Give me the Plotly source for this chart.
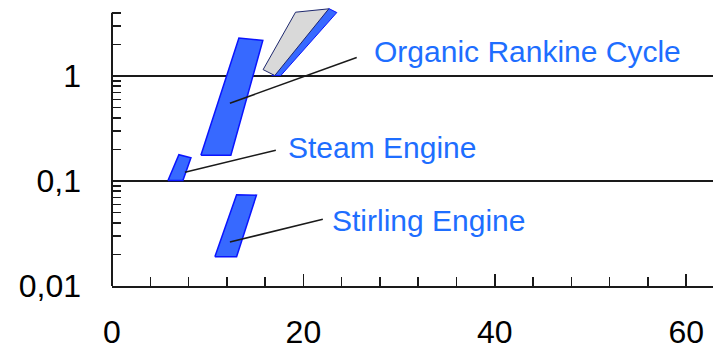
import math
import plotly.graph_objects as go

# ---- data ----
# technology regions: x (0..60 scale), y (log scale)
orc_x = [9.29, 12.42, 15.76, 13.26]
orc_y = [0.176, 0.176, 2.18, 2.30]
orc_shadow_x = [16.70, 17.64, 23.49, 22.65]
orc_shadow_y = [1.01, 1.01, 4.02, 4.39]
orc_grey_x = [15.79, 17.01, 22.65, 19.18]
orc_grey_y = [1.15, 1.01, 4.36, 4.05]
steam_x = [5.85, 7.41, 8.25, 6.99]
steam_y = [0.101, 0.101, 0.1665, 0.178]
stirling_x = [10.75, 13.02, 15.09, 13.02]
stirling_y = [0.0190, 0.0190, 0.0733, 0.0741]

# leader lines: [start, end]
orc_leader_x = [12.32, 25.57]
orc_leader_y = [0.550, 1.50]
steam_leader_x = [7.62, 17.12]
steam_leader_y = [0.121, 0.196]
stirling_leader_x = [12.32, 22.03]
stirling_leader_y = [0.0262, 0.0433]

# labels: text, x, y
label_texts = ["Organic Rankine Cycle", "Steam Engine", "Stirling Engine"]
label_x = [27.2, 18.2, 22.8]
label_y = [1.71, 0.209, 0.042]

y_tickvals = [0.01, 0.1, 1]
y_ticktext = ["0,01", "0,1", "1"]
x_tickvals = [0, 20, 40, 60]
x_ticktext = ["0", "20", "40", "60"]

Y_MIN_LOG = -2
Y_MAX_LOG = 0.676
Y_AXIS_TOP = 4
X_RANGE = [0, 62.8]

BLUE_FILL = "rgb(55,105,255)"
BLUE_LINE = "rgb(10,20,255)"
TEXT_BLUE = "rgb(30,110,255)"
DARK = "#1a1a1a"
FONT = "Liberation Sans, Arial, Helvetica, sans-serif"

fig = go.Figure()


def poly(xs, ys, fill, line, width):
    fig.add_trace(go.Scatter(
        x=xs + xs[:1], y=ys + ys[:1], mode="lines", fill="toself",
        fillcolor=fill, line=dict(color=line, width=width),
        hoverinfo="skip", showlegend=False))


poly(orc_x, orc_y, BLUE_FILL, BLUE_LINE, 1.5)
poly(orc_shadow_x, orc_shadow_y, BLUE_FILL, BLUE_LINE, 1)
poly(orc_grey_x, orc_grey_y, "rgb(217,217,217)", "rgb(30,40,110)", 1)
poly(steam_x, steam_y, BLUE_FILL, BLUE_LINE, 1.5)
poly(stirling_x, stirling_y, BLUE_FILL, BLUE_LINE, 1.5)

for lx, ly in [(orc_leader_x, orc_leader_y), (steam_leader_x, steam_leader_y),
               (stirling_leader_x, stirling_leader_y)]:
    fig.add_trace(go.Scatter(x=lx, y=ly, mode="lines",
                             line=dict(color=DARK, width=1.5),
                             hoverinfo="skip", showlegend=False))

for t, x, y in zip(label_texts, label_x, label_y):
    fig.add_annotation(x=x, y=math.log10(y), xref="x", yref="y", text=t,
                       showarrow=False, xanchor="left", yanchor="middle",
                       font=dict(family=FONT, size=30, color=TEXT_BLUE))

# y axis line up to 4 only
fig.add_shape(type="line", xref="paper", yref="paper", x0=0, x1=0, y0=0,
              y1=(math.log10(Y_AXIS_TOP) - Y_MIN_LOG) / (Y_MAX_LOG - Y_MIN_LOG),
              line=dict(color=DARK, width=2))

fig.update_layout(
    width=713, height=355,
    margin=dict(l=112, r=0, t=5, b=69, autoexpand=False),
    paper_bgcolor="white", plot_bgcolor="white",
    font=dict(family=FONT, color="black"),
    hovermode=False,
    xaxis=dict(range=X_RANGE, tickvals=x_tickvals, ticktext=x_ticktext,
               ticks="inside", ticklen=12, tickwidth=1.5, tickcolor=DARK,
               showline=True, linecolor=DARK, linewidth=2, showgrid=False,
               zeroline=False, tickfont=dict(size=32, family=FONT),
               ticklabelstandoff=17, automargin=False,
               minor=dict(ticks="inside", ticklen=9, tickwidth=1.5,
                          tickcolor=DARK, dtick=4, showgrid=False)),
    yaxis=dict(type="log", range=[Y_MIN_LOG, Y_MAX_LOG], tickvals=y_tickvals,
               ticktext=y_ticktext, ticks="inside", ticklen=9, tickwidth=1.5,
               tickcolor=DARK, showline=False, showgrid=True, gridcolor=DARK,
               gridwidth=1.5, zeroline=False, automargin=False,
               tickfont=dict(size=32, family=FONT), ticklabelstandoff=30,
               minor=dict(ticks="inside", ticklen=9, tickwidth=1.5,
                          tickcolor=DARK, dtick="D1", showgrid=False)),
)

fig.write_html("out.html",
               config={"displayModeBar": False, "staticPlot": True},
               post_script="document.body.style.margin='0';"
                           "document.body.style.overflow='hidden';")
